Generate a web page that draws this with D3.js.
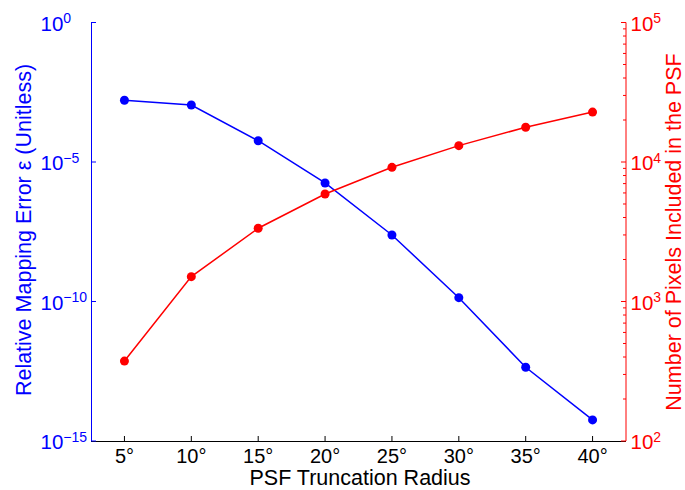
<!DOCTYPE html>
<html>
<head>
<meta charset="utf-8">
<script src="https://cdn.jsdelivr.net/npm/d3@7"></script>
<style>
  html, body { margin: 0; padding: 0; background: #fff; }
  svg text { font-family: "Liberation Sans", Arial, Helvetica, sans-serif; }
</style>
</head>
<body>
<svg id="chart" width="685" height="490"></svg>
<script>
// ---- data ----
const radii = [5, 10, 15, 20, 25, 30, 35, 40];
const errorValues = [1.63e-3, 1.10e-3, 5.8e-5, 1.77e-6, 2.42e-8, 1.37e-10, 4.4e-13, 5.7e-15];
const pixelCounts = [374, 1507, 3350, 5900, 9160, 13100, 17750, 22800];
const xTickLabels = ["5°", "10°", "15°", "20°", "25°", "30°", "35°", "40°"];
const leftTickExponents = [0, -5, -10, -15];
const rightTickExponents = [2, 3, 4, 5];

(function () {
const svg = d3.select("#chart");
const pLeft = 91, pRight = 626, pTop = 22.5, pBottom = 441;
const BLUE = "#0000ff", RED = "#ff0000";

const x = d3.scaleLinear().domain([2.5, 42.5]).range([pLeft, pRight]);
const yL = d3.scaleLog().domain([1e-15, 1]).range([pBottom, pTop]);
const yR = d3.scaleLog().domain([1e2, 1e5]).range([pBottom, pTop]);

// ---- axes lines ----
svg.append("line").attr("x1", pLeft).attr("x2", pLeft).attr("y1", pTop).attr("y2", pBottom)
  .attr("stroke", BLUE).attr("stroke-width", 1).attr("shape-rendering", "crispEdges");
svg.append("line").attr("x1", pRight).attr("x2", pRight).attr("y1", pTop).attr("y2", pBottom)
  .attr("stroke", RED).attr("stroke-width", 1);
svg.append("line").attr("x1", pLeft).attr("x2", pRight).attr("y1", pBottom + 0.5).attr("y2", pBottom + 0.5)
  .attr("stroke", "#000").attr("stroke-width", 1.2);

// ---- x ticks ----
radii.forEach((r, i) => {
  const px = x(r);
  svg.append("line").attr("x1", px).attr("x2", px).attr("y1", pBottom).attr("y2", pBottom - 5)
    .attr("stroke", "#000").attr("stroke-width", 1);
  svg.append("text").attr("x", px).attr("y", 463).attr("text-anchor", "middle")
    .attr("font-size", 20).attr("fill", "#000").text(xTickLabels[i]);
});
svg.append("text").attr("x", 360).attr("y", 485).attr("text-anchor", "middle")
  .attr("font-size", 21.5).attr("fill", "#000").text("PSF Truncation Radius");

// ---- left ticks ----
leftTickExponents.forEach(e => {
  const py = yL(Math.pow(10, e));
  svg.append("line").attr("x1", pLeft).attr("x2", pLeft + 5).attr("y1", py).attr("y2", py)
    .attr("stroke", BLUE).attr("stroke-width", 1);
  const base = svg.append("text").attr("x", 40.5).attr("y", py + 8.3)
    .attr("font-size", 20.5).attr("fill", BLUE).text("10");
  const w = base.node().getComputedTextLength();
  svg.append("text").attr("x", 40.5 + w).attr("y", py + 0.5)
    .attr("font-size", 14).attr("fill", BLUE).text(e < 0 ? "\u2212" + Math.abs(e) : String(e));
});

// ---- right ticks ----
for (let e = 2; e < 5; e++) {
  for (let m = 2; m <= 9; m++) {
    const py = yR(m * Math.pow(10, e));
    svg.append("line").attr("x1", pRight).attr("x2", pRight - 3).attr("y1", py).attr("y2", py)
      .attr("stroke", RED).attr("stroke-width", 1);
  }
}
rightTickExponents.forEach(e => {
  const py = yR(Math.pow(10, e));
  svg.append("line").attr("x1", pRight).attr("x2", pRight - 5).attr("y1", py).attr("y2", py)
    .attr("stroke", RED).attr("stroke-width", 1);
  const base = svg.append("text").attr("x", 630.5).attr("y", py + 8.3)
    .attr("font-size", 20.5).attr("fill", RED).text("10");
  const w = base.node().getComputedTextLength();
  svg.append("text").attr("x", 630.5 + w).attr("y", py + 0.5)
    .attr("font-size", 14).attr("fill", RED).text(String(e));
});

// ---- axis titles ----
svg.append("text").attr("transform", "translate(31,230) rotate(-90)")
  .attr("text-anchor", "middle").attr("font-size", 21.5).attr("fill", BLUE)
  .text("Relative Mapping Error \u03b5 (Unitless)");
svg.append("text").attr("transform", "translate(681,232) rotate(-90)")
  .attr("text-anchor", "middle").attr("font-size", 21.5).attr("fill", RED)
  .text("Number of Pixels Included in the PSF");

// ---- series ----
const blueData = radii.map((r, i) => [r, errorValues[i]]);
const redData = radii.map((r, i) => [r, pixelCounts[i]]);

svg.append("path").datum(blueData)
  .attr("d", d3.line().x(d => x(d[0])).y(d => yL(d[1])))
  .attr("fill", "none").attr("stroke", BLUE).attr("stroke-width", 1.5);
svg.selectAll("circle.b").data(blueData).enter().append("circle")
  .attr("cx", d => x(d[0])).attr("cy", d => yL(d[1])).attr("r", 4.5).attr("fill", BLUE);

svg.append("path").datum(redData)
  .attr("d", d3.line().x(d => x(d[0])).y(d => yR(d[1])))
  .attr("fill", "none").attr("stroke", RED).attr("stroke-width", 1.5);
svg.selectAll("circle.r").data(redData).enter().append("circle")
  .attr("cx", d => x(d[0])).attr("cy", d => yR(d[1])).attr("r", 4.5).attr("fill", RED);
})();
</script>
</body>
</html>
